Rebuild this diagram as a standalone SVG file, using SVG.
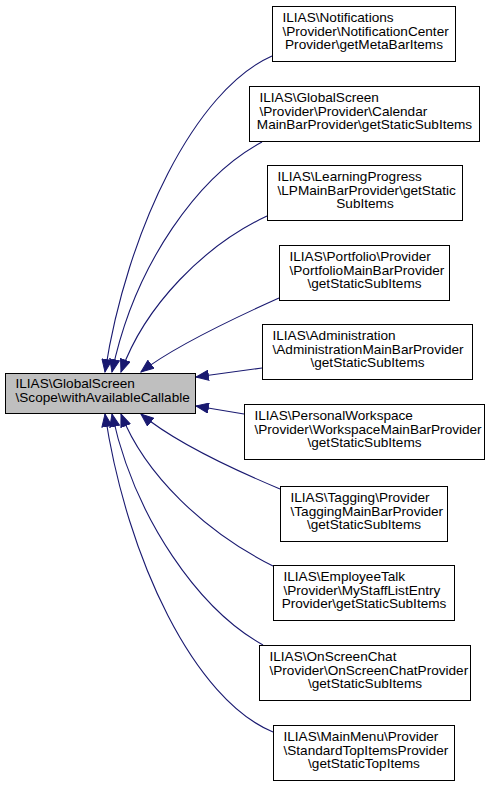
<svg xmlns="http://www.w3.org/2000/svg" width="489" height="787" viewBox="0 0 489 787">
<style>
.box{fill:#ffffff;stroke:#000000;stroke-width:1}
.main{fill:#bfbfbf;stroke:#000000;stroke-width:1}
text{font-family:"Liberation Sans",Arial,Helvetica,sans-serif;font-size:13.6px;fill:#000000}
.c{text-anchor:middle}
.edge{fill:none;stroke:#191970;stroke-width:1.1;marker-end:url(#ah)}
</style>
<defs>
<marker id="ah" markerUnits="userSpaceOnUse" markerWidth="14" markerHeight="11" viewBox="0 0 14 11" refX="13" refY="5.5" orient="auto">
<path d="M0.5,0.5 L13,5.5 L0.5,10.5 z" fill="#191970" stroke="#191970" stroke-width="1"/>
</marker>
</defs>
<rect width="489" height="787" fill="#ffffff"/>
<g id="connectors">
<path class="edge" d="M272,56 C195,90 127,230 105,372"/>
<path class="edge" d="M262,142 C200,175 135,262 112,372"/>
<path class="edge" d="M267,216 C205,245 145,305 121,372"/>
<path class="edge" d="M279,298 C230,320 172,348 141,372"/>
<path class="edge" d="M262,368 L196,377"/>
<path class="edge" d="M244,414 L196,406"/>
<path class="edge" d="M280,489 C230,468 172,440 141,414"/>
<path class="edge" d="M273,566 C205,532 145,475 121,414"/>
<path class="edge" d="M263,645 C200,610 135,520 112,414"/>
<path class="edge" d="M273,732 C195,700 127,560 105,414"/>
</g>
<g id="main">
<rect class="main" x="5.5" y="373.5" width="190" height="40"/>
<text x="15.5" y="388">ILIAS\GlobalScreen</text>
<text x="15.5" y="402">\Scope\withAvailableCallable</text>
</g>
<g id="n1">
<rect class="box" x="272.5" y="6.5" width="183" height="55"/>
<text x="282.5" y="21.5">ILIAS\Notifications</text>
<text x="282.5" y="35.5">\Provider\NotificationCenter</text>
<text class="c" x="364" y="49">Provider\getMetaBarItems</text>
</g>
<g id="n2">
<rect class="box" x="249.5" y="86.5" width="230" height="55"/>
<text x="259.5" y="101.5">ILIAS\GlobalScreen</text>
<text x="259.5" y="115.5">\Provider\Provider\Calendar</text>
<text class="c" x="364.5" y="129">MainBarProvider\getStaticSubItems</text>
</g>
<g id="n3">
<rect class="box" x="267.5" y="165.5" width="195" height="55"/>
<text x="277.5" y="180.5">ILIAS\LearningProgress</text>
<text x="277.5" y="194.5">\LPMainBarProvider\getStatic</text>
<text class="c" x="365" y="208">SubItems</text>
</g>
<g id="n4">
<rect class="box" x="279.5" y="245.5" width="170" height="55"/>
<text x="289.5" y="260.5">ILIAS\Portfolio\Provider</text>
<text x="289.5" y="274.5">\PortfolioMainBarProvider</text>
<text class="c" x="364.5" y="288">\getStaticSubItems</text>
</g>
<g id="n5">
<rect class="box" x="262.5" y="324.5" width="210" height="55"/>
<text x="272.5" y="339.5">ILIAS\Administration</text>
<text x="272.5" y="353.5">\AdministrationMainBarProvider</text>
<text class="c" x="367.5" y="367">\getStaticSubItems</text>
</g>
<g id="n6">
<rect class="box" x="244.5" y="404.5" width="240" height="55"/>
<text x="254.5" y="419.5">ILIAS\PersonalWorkspace</text>
<text x="254.5" y="433.5">\Provider\WorkspaceMainBarProvider</text>
<text class="c" x="364.5" y="447">\getStaticSubItems</text>
</g>
<g id="n7">
<rect class="box" x="280.5" y="486.5" width="167" height="55"/>
<text x="290.5" y="501.5">ILIAS\Tagging\Provider</text>
<text x="290.5" y="515.5">\TaggingMainBarProvider</text>
<text class="c" x="364" y="529">\getStaticSubItems</text>
</g>
<g id="n8">
<rect class="box" x="273.5" y="565.5" width="181" height="55"/>
<text x="283.5" y="580.5">ILIAS\EmployeeTalk</text>
<text x="283.5" y="594.5">\Provider\MyStaffListEntry</text>
<text class="c" x="364" y="608">Provider\getStaticSubItems</text>
</g>
<g id="n9">
<rect class="box" x="259.5" y="645.5" width="211" height="55"/>
<text x="269.5" y="660.5">ILIAS\OnScreenChat</text>
<text x="269.5" y="674.5">\Provider\OnScreenChatProvider</text>
<text class="c" x="365" y="688">\getStaticSubItems</text>
</g>
<g id="n10">
<rect class="box" x="273.5" y="725.5" width="181" height="55"/>
<text x="283.5" y="740.5">ILIAS\MainMenu\Provider</text>
<text x="283.5" y="754.5">\StandardTopItemsProvider</text>
<text class="c" x="364" y="768">\getStaticTopItems</text>
</g>
</svg>
